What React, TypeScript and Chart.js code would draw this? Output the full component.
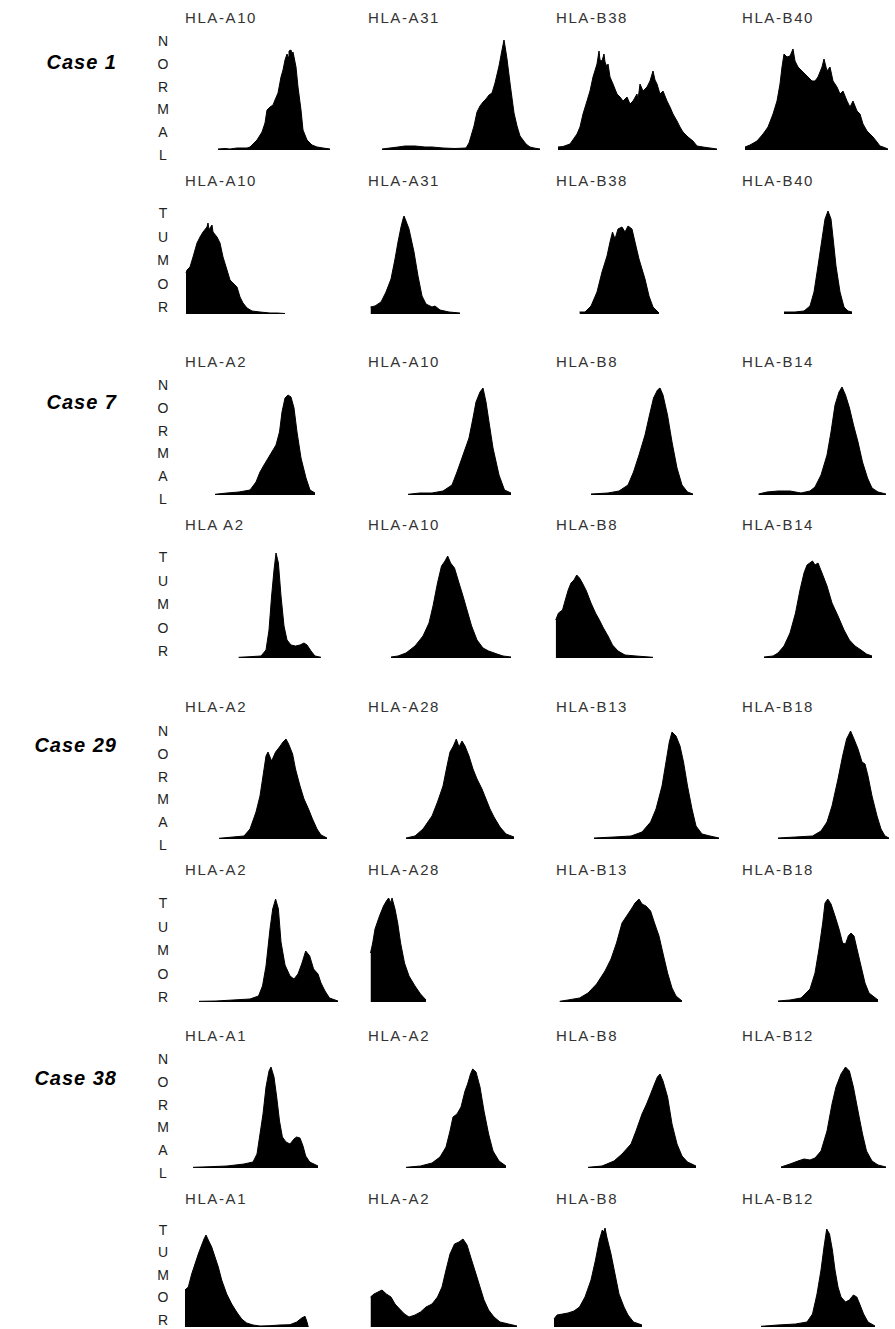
import React, { useEffect, useRef } from "react";
import { Chart, registerables } from "chart.js";

Chart.register(...registerables);

type Pt = [number, number];

// ---------- labels ----------
const caseLabels = ["Case 1", "Case 7", "Case 29", "Case 38"];
const c1Titles = ["HLA-A10", "HLA-A31", "HLA-B38", "HLA-B40"];
const c7NormalTitles = ["HLA-A2", "HLA-A10", "HLA-B8", "HLA-B14"];
const c7TumorTitles = ["HLA A2", "HLA-A10", "HLA-B8", "HLA-B14"];
const c29Titles = ["HLA-A2", "HLA-A28", "HLA-B13", "HLA-B18"];
const c38Titles = ["HLA-A1", "HLA-A2", "HLA-B8", "HLA-B12"];
const normalWord = "NORMAL";
const tumorWord = "TUMOR";

// ---------- histogram data: [channel, count] ----------
// Case 1 normal
const c1nA10: Pt[] = [[38,1],[45,1.5],[50,1],[57,2],[67,2],[70,3],[77,10],[82,18],[85,27],[87,40],[90,43],[93,45],[95,50],[98,57],[101,73],[103,80],[105,90],[107,96],[108,93],[109,99],[111,100],[112,96],[113,98],[116,83],[118,63],[121,40],[123,20],[127,10],[132,5],[137,3],[143,2],[150,1]];
const c1nA31: Pt[] = [[17,1],[25,2],[33,3],[40,4],[50,4],[60,3],[67,3],[78,2],[90,1.5],[101,2],[104,7],[109,24],[112,38],[115,44],[118,48],[121,51],[124,55],[127,57],[130,67],[134,84],[137,100],[139,110],[140,104],[142,91],[145,67],[149,37],[152,24],[155,14],[161,6],[165,3],[169,2],[175,1]];
const c1nB38: Pt[] = [[8,3],[13,3.5],[20,6],[27,16],[30,23],[33,36],[37,49],[40,59],[43,73],[47,86],[49,99],[50,90],[52,89],[54,96],[55,88],[57,83],[58,86],[60,73],[63,66],[67,56],[70,53],[73,49],[77,53],[80,46],[83,49],[87,56],[88,50],[90,66],[93,59],[97,63],[100,69],[103,79],[105,70],[107,66],[110,56],[113,59],[117,49],[120,43],[123,36],[127,29],[130,23],[133,18],[138,13],[143,9],[147,4],[153,3],[160,2],[167,1]];
const c1nB40: Pt[] = [[10,3],[15,5],[22,9],[28,16],[33,23],[38,36],[42,49],[45,66],[47,83],[49,96],[52,93],[55,94],[58,101],[60,89],[63,83],[67,79],[70,76],[73,73],[77,69],[80,69],[83,73],[87,83],[89,91],[92,79],[95,83],[98,69],[102,63],[105,56],[108,59],[112,49],[115,43],[118,49],[122,39],[125,36],[128,26],[132,19],[135,16],[138,13],[142,8],[145,4],[148,3],[153,1]];
// Case 1 tumor
const c1tA10: Pt[] = [[6,41],[7,44],[10,47],[13,57],[17,71],[20,77],[23,82],[27,87],[28,91],[29,84],[30,86],[32,89],[33,82],[37,77],[40,71],[43,57],[47,44],[50,34],[53,31],[57,27],[60,17],[63,11],[67,6],[72,3],[80,2],[90,1],[97,1],[105,0.5]];
const c1tA31: Pt[] = [[5.5,7],[10,8],[16,12],[21,22],[26,35],[30,55],[33,72],[36,87],[38,95],[39,98],[41,93],[44,85],[49,62],[53,38],[57,18],[61,10],[67,7],[70,8],[75,4],[84,2],[95,1]];
const c1tB38: Pt[] = [[29.5,2],[35,2],[41,8],[47,22],[52,42],[57,58],[60,72],[62.5,82],[65,75],[68,85],[72,87],[75,82],[78,88],[82,85],[85,72],[89,55],[95,35],[99,18],[103,7],[109,1]];
const c1tB40: Pt[] = [[49,2],[60,2],[69,3],[75,8],[79,22],[83,48],[87,75],[90,95],[93,103],[96,95],[98.5,72],[101,48],[105,22],[109,7],[113,3],[117,2]];
// Case 7 normal
const c7nA2: Pt[] = [[35,0.7],[47,2],[59,3],[70,5],[76,13],[80,23],[84,30],[90,40],[96,50],[99.5,63],[102,83],[105,97],[108,100],[111,98],[114,87],[117,63],[121,37],[126,17],[130,5],[135,2]];
const c7nA10: Pt[] = [[43,0.7],[55,2],[67,2],[78,4],[87,10],[92,23],[98,40],[104,57],[108,77],[111,93],[115,103],[118,107],[121,93],[124,73],[128,47],[134,20],[139.5,5],[146,2]];
const c7nB8: Pt[] = [[41,1],[58,2],[69,4],[78,10],[83.5,23],[89,40],[95,60],[99.5,80],[103.5,97],[107.5,105],[110,107],[113,100],[117.5,80],[122,53],[127,27],[132,10],[137.5,3],[143,1]];
const c7nB14: Pt[] = [[23.5,1],[32,3],[43,4],[55,4],[66,2],[75,4],[80,8],[86,20],[92,40],[96,63],[100,90],[104,103],[107,108],[110.5,100],[114.5,87],[118.5,70],[123,53],[127.5,33],[132.5,17],[137,7],[143,3],[151,1]];
// Case 7 tumor
const c7tA2: Pt[] = [[58.6,0.7],[70,1.3],[81,2],[86,8],[89,28],[91.6,62],[94,88],[96,105],[98.4,95],[101,62],[104,32],[107,18],[111,13],[115.5,12],[120,13],[124,15],[127,13],[131,7],[135,2],[141,0.7]];
const c7tA10: Pt[] = [[26,1],[33,2],[41,5],[50,12],[58,22],[64,35],[68,52],[72.5,75],[76.5,92],[80,97],[82.7,102],[85.6,95],[89.5,90],[94,75],[98,62],[102,48],[106.6,32],[112,18],[118,10],[123.6,7],[132,4],[138,2],[146,1]];
const c7tB8: Pt[] = [[5.7,38],[8.5,45],[12.5,48],[15.3,58],[18.2,68],[21,75],[24,78],[26.7,83],[29.5,80],[32.4,75],[36.4,67],[41,55],[45.5,45],[49.4,38],[53.4,30],[58,22],[62.5,13],[68,7],[75,3],[86,2],[103,0.7]];
const c7tB14: Pt[] = [[29,1],[38,2],[43,5],[49,12],[55,25],[60.5,45],[65,68],[69,85],[72,93],[74.7,95],[77.5,97],[80,93],[83,95],[87,85],[92,72],[97,55],[103,42],[109,28],[114.4,18],[120,12],[126,8],[131.5,4],[137,2]];
// Case 29 normal
const c29nA2: Pt[] = [[39,0.7],[53,2],[64,3],[70,10],[76,27],[80,43],[83,63],[86,83],[88,87],[91.6,78],[95.6,87],[99.5,92],[103,97],[106,100],[108.6,95],[112.6,85],[115.5,70],[120,53],[124,40],[128.5,30],[132.5,20],[137,10],[141,4],[147,1]];
const c29nA28: Pt[] = [[41,1],[50,3],[58,10],[67,23],[72.5,37],[78,53],[82,73],[85,87],[88.4,93],[91.3,100],[94,92],[97,98],[100,93],[104,83],[108,70],[112,60],[117,50],[121,40],[125,30],[129,22],[135,12],[141,5],[149,2]];
const c29nB13: Pt[] = [[44,1],[64,2],[81,3],[92,7],[100.6,17],[106,30],[112,53],[116,77],[119.3,97],[122,107],[126,103],[130,93],[133.5,77],[137.5,53],[142,30],[146,13],[152,5],[160,3],[169,1]];
const c29nB18: Pt[] = [[43,1],[60.5,2],[77.5,3],[86,8],[92,17],[97,33],[103,60],[107.6,83],[111.6,100],[115.6,108],[119,100],[123,90],[127,77],[130,75],[133,63],[137,43],[142,23],[146,10],[150,3],[154,1]];
// Case 29 tumor
const c29tA2: Pt[] = [[19,0.7],[36,1],[53,2],[70,3],[78.5,6],[82.5,16],[86,36],[90,73],[92.7,93],[95.6,103],[98.4,93],[101,60],[105,37],[110,26],[114,23],[118,28],[122,39],[125.7,51],[129.7,46],[133.6,33],[138,28],[141,19],[145,11],[149.5,4],[158,1]];
const c29tA28: Pt[] = [[5.5,49],[7.7,59],[10,73],[14.5,86],[18.5,96],[21.4,101],[23.6,104],[25.9,99],[27,104],[30,93],[32.7,79],[35.6,59],[39.5,39],[44,26],[50,16],[55.5,8],[61,2]];
const c29tB13: Pt[] = [[9.7,0.7],[18,2],[29.5,4],[38,9],[46.6,18],[55,31],[61,43],[66.5,59],[72,79],[78,88],[82,94],[85,99],[89,103],[92,98],[96,96],[100.6,91],[104.5,79],[109,66],[113.6,46],[117.6,29],[122,14],[126,6],[132,1]];
const c29tB18: Pt[] = [[43,1],[55,2],[66,4],[75,13],[80,29],[84,53],[87.7,79],[90,99],[92.8,103],[96,98],[100,86],[104,73],[107.6,59],[110.5,58],[113.3,66],[116,69],[119,66],[122,53],[126,36],[130,19],[134,9],[143,2]];
// Case 38 normal
const c38nA1: Pt[] = [[13,0.7],[30,1.3],[47,2],[64,4],[73,6],[77,14],[80,34],[83,54],[86,81],[89,97],[91,101],[94,91],[96.7,71],[99.5,47],[102.4,31],[106,26],[110,24],[114,29],[116.6,31],[120,30],[123,22],[125.7,12],[129.7,6],[138,2]];
const c38nA2: Pt[] = [[41,0.7],[55.5,2],[67,5],[75,11],[81,21],[85,37],[88,51],[92,54],[96,61],[100,77],[102.6,84],[105.5,94],[107.7,99],[111,96],[115,81],[119,57],[123.6,34],[128,17],[134,7],[141,2]];
const c38nB8: Pt[] = [[38,0.7],[52,2],[64,7],[72,14],[81,24],[86,37],[92,54],[96.6,64],[100.6,74],[104.5,84],[107.4,91],[110,94],[113,87],[117.6,71],[122,44],[127,24],[132,12],[137.5,6],[146,2]];
const c38nB12: Pt[] = [[46,1],[55,4],[63,7],[69,9],[75,8],[80,10],[86,17],[92,37],[97,64],[101,81],[106,94],[110.5,101],[114.4,97],[118.4,81],[123,57],[127.5,34],[131.5,17],[137,7],[143,3],[151,1]];
// Case 38 tumor
const c38tA1: Pt[] = [[5,37],[8.3,40],[11.7,53],[15,63],[18.3,73],[21.7,82],[24,88],[26,92],[28.3,87],[31.7,80],[35,70],[38.3,60],[41.7,47],[46.7,33],[51.7,23],[56.7,15],[61.7,8],[66.7,4],[73,2],[80,1],[90,1.3],[100,2],[110,2.3],[116.7,5],[121.7,9],[125,10.7],[126.7,6],[128.3,0]];
const c38tA2: Pt[] = [[5.5,30],[9,33],[13,35],[17,37],[21.4,33],[26,30],[30,23],[35.6,17],[39.5,13],[44,10],[50,12],[55.5,15],[61,20],[67,23],[72.5,30],[77,40],[81,57],[85,73],[89.5,83],[94,85],[98,88],[102,82],[106.6,67],[111,53],[115,40],[119,27],[123.6,17],[129,10],[135,5],[143.5,3],[152,1]];
const c38tB8: Pt[] = [[4,8],[7,12],[12.5,13],[18,14],[24,16],[29.5,20],[35,30],[41,47],[45.5,67],[49.4,87],[52.3,97],[54,95],[55,99],[56.8,90],[61,73],[65,53],[69,33],[74,20],[78,12],[83.5,5],[92,2]];
const c38tB12: Pt[] = [[26,0.7],[43,2],[60.5,3],[72,5],[77.5,13],[82,33],[86,57],[89,80],[91.7,98],[94.5,93],[97.4,77],[100,57],[103,40],[106,30],[110.5,25],[114.4,27],[118.4,32],[121.8,30],[124.7,23],[128.6,13],[133,5],[140,1]];

// ---------- structure ----------
const rowsData = [
  { titles: c1Titles, word: normalWord, series: [c1nA10, c1nA31, c1nB38, c1nB40] },
  { titles: c1Titles, word: tumorWord, series: [c1tA10, c1tA31, c1tB38, c1tB40] },
  { titles: c7NormalTitles, word: normalWord, series: [c7nA2, c7nA10, c7nB8, c7nB14] },
  { titles: c7TumorTitles, word: tumorWord, series: [c7tA2, c7tA10, c7tB8, c7tB14] },
  { titles: c29Titles, word: normalWord, series: [c29nA2, c29nA28, c29nB13, c29nB18] },
  { titles: c29Titles, word: tumorWord, series: [c29tA2, c29tA28, c29tB13, c29tB18] },
  { titles: c38Titles, word: normalWord, series: [c38nA1, c38nA2, c38nB8, c38nB12] },
  { titles: c38Titles, word: tumorWord, series: [c38tA1, c38tA2, c38tB8, c38tB12] },
];

// ---------- layout (positions only) ----------
const ROW_LAYOUT = [
  { titleY: 18, lettersY: 41, step: 22.8, baseline: 150 },
  { titleY: 181, lettersY: 213, step: 23.5, baseline: 314 },
  { titleY: 362, lettersY: 385, step: 22.8, baseline: 495 },
  { titleY: 525, lettersY: 557, step: 23.5, baseline: 658 },
  { titleY: 707, lettersY: 731, step: 22.8, baseline: 839 },
  { titleY: 870, lettersY: 903, step: 23.5, baseline: 1002 },
  { titleY: 1036, lettersY: 1059, step: 22.8, baseline: 1168 },
  { titleY: 1199, lettersY: 1230, step: 22.4, baseline: 1327 },
];
const CASE_LABEL_Y = [62, 402, 745, 1078];
const CELL_LEFT = [180, 365, 550, 735];
const CELL_WIDTH = [180, 180, 180, 160];
const TITLE_X = [185, 368, 556, 742];
const LETTER_X = 163;
const CANVAS_H = 120;
const COUNT_MAX = 120;

const FONT = '"Liberation Sans", Arial, Helvetica, sans-serif';

function Histogram({ left, width, baseline, points }: { left: number; width: number; baseline: number; points: Pt[] }) {
  const ref = useRef<HTMLCanvasElement>(null);
  useEffect(() => {
    const chart = new Chart(ref.current as HTMLCanvasElement, {
      type: "line",
      data: {
        datasets: [
          {
            data: points.map(([x, y]) => ({ x, y })),
            fill: "origin",
            backgroundColor: "#000",
            borderColor: "#000",
            borderWidth: 1,
            pointRadius: 0,
            tension: 0,
          },
        ],
      },
      options: {
        animation: false,
        responsive: false,
        events: [],
        layout: { padding: 0 },
        plugins: { legend: { display: false }, tooltip: { enabled: false } },
        scales: {
          x: { type: "linear", min: 0, max: width, display: false },
          y: { min: 0, max: COUNT_MAX, display: false },
        },
      },
    } as any);
    return () => chart.destroy();
  }, []);
  return (
    <canvas
      ref={ref}
      width={width}
      height={CANVAS_H}
      style={{ position: "absolute", left, top: baseline - CANVAS_H, width, height: CANVAS_H }}
    />
  );
}

export default function App() {
  return (
    <div
      style={{
        position: "absolute",
        left: 0,
        top: 0,
        width: 895,
        height: 1329,
        overflow: "hidden",
        background: "#fff",
        fontFamily: FONT,
      }}
    >
      {caseLabels.map((lab, i) => (
        <div
          key={lab}
          style={{
            position: "absolute",
            right: 895 - 117,
            top: CASE_LABEL_Y[i] - 12,
            height: 24,
            lineHeight: "24px",
            fontSize: 20,
            fontWeight: "bold",
            fontStyle: "italic",
            letterSpacing: 1,
            color: "#000",
            whiteSpace: "nowrap",
          }}
        >
          {lab}
        </div>
      ))}
      {rowsData.map((row, r) => {
        const L = ROW_LAYOUT[r];
        return (
          <React.Fragment key={r}>
            {row.word.split("").map((ch, k) => (
              <div
                key={"l" + k}
                style={{
                  position: "absolute",
                  left: LETTER_X - 10,
                  width: 20,
                  textAlign: "center",
                  top: L.lettersY + k * L.step - 9,
                  height: 18,
                  lineHeight: "18px",
                  fontSize: 14,
                  color: "#222",
                }}
              >
                {ch}
              </div>
            ))}
            {row.titles.map((t, c) => (
              <div
                key={"t" + c}
                style={{
                  position: "absolute",
                  left: TITLE_X[c],
                  top: L.titleY - 10,
                  height: 20,
                  lineHeight: "20px",
                  fontSize: 15,
                  letterSpacing: 1.6,
                  color: "#333",
                  whiteSpace: "nowrap",
                }}
              >
                {t}
              </div>
            ))}
            {row.series.map((s, c) => (
              <Histogram
                key={"h" + c}
                left={CELL_LEFT[c]}
                width={CELL_WIDTH[c]}
                baseline={L.baseline}
                points={s}
              />
            ))}
          </React.Fragment>
        );
      })}
    </div>
  );
}
